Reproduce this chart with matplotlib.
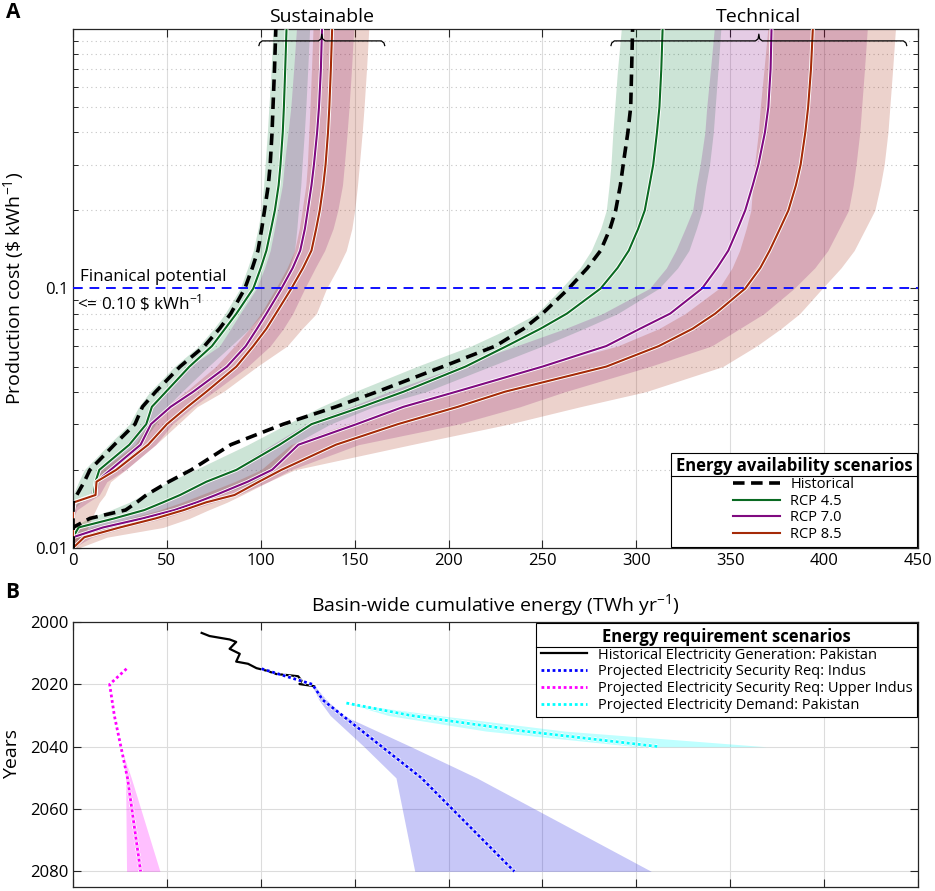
import numpy as np
import matplotlib
matplotlib.use("Agg")
import matplotlib.pyplot as plt
import matplotlib.transforms as mtransforms
from matplotlib import patheffects as pe
from matplotlib.lines import Line2D
from matplotlib.ticker import LogLocator, NullFormatter

plt.rcParams['font.family'] = ['Open Sans', 'DejaVu Sans']
plt.rcParams['mathtext.fontset'] = 'custom'
plt.rcParams['mathtext.rm'] = 'Open Sans'
plt.rcParams['mathtext.it'] = 'Open Sans'
plt.rcParams['mathtext.bf'] = 'Open Sans:bold'

# ---- panel A: supply curves (cost levels shared by every series) ----
COST = [0.01, 0.011, 0.012, 0.013, 0.014, 0.015, 0.016, 0.018, 0.02, 0.025, 0.03, 0.035, 0.04,
        0.05, 0.06, 0.07, 0.08, 0.1, 0.12, 0.14, 0.17, 0.2, 0.25, 0.3, 0.4, 0.5, 0.7, 1.0]

# technical potential (TWh/yr)
tech_hist = [0, 0, 0, 9, 28, 34, 39, 51, 63, 84, 112, 140, 162, 197, 225, 240, 250, 264, 274, 281, 286, 289, 291.5, 293, 295.5, 297, 297.5, 298]
tech_rcp45 = [0, 0, 3, 22, 38, 48, 57, 71, 87, 110, 127, 154, 176, 209, 231, 249, 263, 281, 290, 296, 301, 304.5, 307, 309, 311, 312.3, 313.3, 314]
tech_rcp70 = [0, 0, 16, 37, 54, 66, 76, 93, 106, 120, 151, 176, 204, 250, 284, 302, 318, 335, 343, 349, 354, 358, 362, 365, 368.5, 370.3, 371.5, 372]
tech_rcp85 = [0, 6, 25, 44, 59, 71, 86, 99, 111, 140, 173, 205, 230, 284, 312, 330, 342, 358, 366, 371, 376.5, 381, 385, 387.5, 390, 391.5, 393, 394]
tech45_lo = [0, 0, 0, 8, 20, 30, 37, 51, 65, 93, 114, 132, 150, 183, 212, 232, 247, 260, 270, 276, 281, 284, 285.5, 286.5, 287.5, 288.5, 290, 292]
tech45_hi = [0, 5, 22, 40, 55, 68, 78, 97, 106, 117, 137, 160, 188, 222, 250, 272, 290, 312, 322, 328, 332, 335, 337, 339, 341, 342, 343.5, 345]
tech70_lo = [0, 0, 3, 20, 36, 46, 55, 70, 85, 106, 124, 148, 168, 205, 236, 262, 282, 307, 316, 321, 326, 330, 332, 334, 336.5, 337.5, 339.5, 341.5]
tech70_hi = [0, 10, 28, 48, 62, 75, 88, 104, 116, 152, 205, 238, 262, 307, 340, 355, 368, 384, 395, 402, 408, 413, 415.5, 417, 419, 420, 421.5, 423]
tech85_lo = [0, 0, 10, 30, 46, 58, 68, 86, 100, 116, 146, 175, 203, 250, 290, 312, 326, 344, 351, 355, 358.5, 361, 362, 363, 365, 366, 368, 370]
tech85_hi = [3, 18, 48, 62, 72, 82, 90, 104, 118, 180, 232, 270, 305, 346, 364, 377, 387, 399, 409, 416, 422, 427, 430, 432, 434, 435, 436.5, 438]

# sustainable potential (TWh/yr)
sust_hist = [0, 0, 0, 0, 0, 0, 2, 6, 9, 22, 33, 37, 44, 57, 70, 78, 84, 91.5, 95.5, 98.5, 100.5, 102, 104, 105, 106, 106.5, 107.3, 108]
sust_rcp45 = [0, 0, 0, 0, 0, 0.5, 11, 12, 14, 30, 39, 42, 49.5, 62, 74, 81, 87, 96, 100, 103, 105.5, 107.5, 109.5, 110.5, 111.7, 112.3, 113, 113.7]
sust_rcp70 = [0, 0, 0, 0, 0, 1, 12, 12.5, 20, 36, 41.5, 52, 64, 82, 92, 98, 103, 111, 117, 121, 123.5, 125, 127, 128.3, 130, 131, 132, 132.6]
sust_rcp85 = [0, 0, 0, 0, 0, 0.5, 12, 12.5, 23, 40, 50, 61, 71, 87, 96, 103, 108, 116.3, 122.5, 127, 129.5, 131.4, 133.3, 134.5, 135.8, 136.5, 137.3, 138]
sust45_lo = [0, 0, 0, 0, 0, 0, 0, 3, 6, 19, 30, 35, 41, 54, 67, 75, 81, 89, 93, 96, 98.5, 100.3, 101.5, 102.3, 103.5, 104.3, 105.5, 106.5]
sust45_hi = [0, 0, 0, 0, 0, 4, 12, 14, 20, 36, 44, 50, 58, 72, 84, 94, 101, 110, 115, 118, 119.2, 120, 121.3, 122, 123.2, 124, 125, 126]
sust70_lo = [0, 0, 0, 0, 0, 0, 9, 11, 13, 28, 37, 42, 48, 62, 78, 84, 89, 97.7, 102, 105, 107.3, 109, 111.5, 112.5, 114.5, 116, 117.5, 119]
sust70_hi = [0, 0, 0, 0, 2, 8, 14, 18, 28, 44, 53, 64, 75, 93, 105, 112, 117, 123.4, 129, 134, 138.5, 141, 143.5, 144.5, 146, 147, 148.3, 149.5]
sust85_lo = [0, 0, 0, 0, 0, 0, 10, 12, 15, 33, 40, 50, 60, 76, 86, 94, 100, 108, 114, 118, 120.5, 122, 124, 124.8, 125.6, 126.2, 127, 127.8]
sust85_hi = [2, 5, 8, 10, 12, 14, 17, 20, 28, 44, 56, 66, 80, 98, 114, 122, 129.6, 135, 141, 145.5, 148.5, 150, 151.5, 152.5, 154, 155, 156.3, 157.5]

financial_cost = 0.1
sust_range = [99, 166]
tech_range = [286.5, 444]

# ---- panel B: energy requirement ----
hist_year = [2003.5, 2004.5, 2005.6, 2006.4, 2008.6, 2010.2, 2012.7, 2013.4, 2014.8,
             2015.6, 2016.7, 2017.0, 2017.4, 2018.8, 2019.9, 2020.6]
hist_energy = [68.5, 72.7, 83.4, 86.9, 83.4, 88.8, 86.9, 93.2, 97.7,
               103.0, 108.3, 113.7, 119.9, 121.7, 120.6, 128.7]

indus_year = [2015, 2020, 2025, 2030, 2040, 2050, 2080]
indus_energy = [100.4, 127.5, 133, 143.5, 164.5, 185.5, 235]
indus_band_year = [2020, 2025, 2030, 2040, 2050, 2080]
indus_band_lo = [127, 131, 137, 155, 172, 182]
indus_band_hi = [128, 135, 144, 180, 215, 308]

upper_year = [2015, 2020, 2030, 2040, 2050, 2080]
upper_energy = [28.5, 19.5, 22, 25.5, 29, 36]
upper_band_year = [2042, 2050, 2080]
upper_band_lo = [26.5, 28, 28.5]
upper_band_hi = [26.5, 31, 46.3]

demand_year = [2026, 2030, 2035, 2040]
demand_energy = [145.6, 180, 240, 312.2]
demand_band_lo = [145.6, 168, 220, 300]
demand_band_hi = [145.6, 195, 262, 369]

GREEN, PURPLE, RED = '#0a6a22', '#800a80', '#a52a08'
GREEN_F, PURPLE_F, RED_F = '#007832', '#800080', '#a01e00'
AX_COL = '#262626'


def halo(lw):
    return [pe.Stroke(linewidth=lw + 1.3, foreground='white'), pe.Normal()]


def style_axes(ax):
    for s in ax.spines.values():
        s.set_color(AX_COL)
        s.set_linewidth(0.9)
    ax.tick_params(which='both', direction='in', top=True, right=True, colors=AX_COL,
                   labelcolor='black', labelsize=12)
    ax.tick_params(which='major', length=5.5, width=0.8)
    ax.tick_params(which='minor', length=3.5, width=0.7)


def legend_rule(fig, leg):
    fig.canvas.draw()
    r = fig.canvas.get_renderer()
    fb = leg.get_frame().get_window_extent(r)
    tb = leg.get_title().get_window_extent(r)
    inv = fig.transFigure.inverted()
    (x0, y0), (x1, _) = inv.transform([(fb.x0, tb.y0 - 1), (fb.x1, tb.y0 - 1)])
    fig.add_artist(Line2D([x0, x1], [y0, y0], color='black', lw=0.8))


def make_legend(ax, handles, title, loc):
    leg = ax.legend(handles=handles, loc=loc, title=title,
                    title_fontproperties={'weight': 'bold', 'size': 12}, fontsize=10.5,
                    frameon=True, fancybox=False, framealpha=1, edgecolor='black',
                    borderaxespad=0.1, handlelength=3.2, handletextpad=0.7, labelspacing=0.12,
                    borderpad=0.3)
    leg.get_frame().set_linewidth(0.8)
    leg.set_zorder(10)
    return leg


fig = plt.figure(figsize=(9.35, 8.91), dpi=100)
axA = fig.add_axes([0.0781, 0.3850, 0.9037, 0.5825])
axB = fig.add_axes([0.0781, 0.0045, 0.9037, 0.2974])

# ---------------- panel A ----------------
axA.set_yscale('log')
for lo, hi, col in [(tech45_lo, tech45_hi, GREEN_F), (tech70_lo, tech70_hi, PURPLE_F),
                    (tech85_lo, tech85_hi, RED_F), (sust45_lo, sust45_hi, GREEN_F),
                    (sust70_lo, sust70_hi, PURPLE_F), (sust85_lo, sust85_hi, RED_F)]:
    axA.fill_betweenx(COST, lo, hi, color=col, alpha=0.2, lw=0, zorder=2)

handles = []
for series, col, name in [(tech_rcp45, GREEN, 'RCP 4.5'), (tech_rcp70, PURPLE, 'RCP 7.0'),
                          (tech_rcp85, RED, 'RCP 8.5')]:
    h, = axA.plot(series, COST, color=col, lw=1.5, path_effects=halo(1.5), zorder=3, label=name)
    handles.append(h)
for series, col in [(sust_rcp45, GREEN), (sust_rcp70, PURPLE), (sust_rcp85, RED)]:
    axA.plot(series, COST, color=col, lw=1.5, path_effects=halo(1.5), zorder=3)
hh, = axA.plot(tech_hist, COST, color='black', lw=2.6, ls=(0, (3.2, 1.8)), zorder=4, label='Historical')
axA.plot(sust_hist, COST, color='black', lw=2.6, ls=(0, (3.2, 1.8)), zorder=4)
handles.insert(0, hh)

axA.axhline(financial_cost, color='#1010ff', lw=1.4, ls=(0, (5, 3.5)), zorder=5)
axA.text(3.7, financial_cost * 1.035, 'Finanical potential', fontsize=12.3, va='bottom', ha='left')
axA.text(2.0, financial_cost * 0.965, r'<= 0.10 \$ kWh$^{-1}$', fontsize=12.3, va='top', ha='left')

axA.set_xlim(0, 450)
axA.set_ylim(0.01, 1.0)
axA.set_xticks(np.arange(0, 451, 50))
axA.set_yticks([0.01, 0.1])
axA.set_yticklabels(['0.01', '0.1'])
axA.yaxis.set_minor_locator(LogLocator(base=10, subs=np.arange(2, 10)))
axA.yaxis.set_minor_formatter(NullFormatter())
axA.grid(True, which='major', axis='x', color='#dcdcdc', lw=0.8)
axA.grid(True, which='minor', axis='y', color='#c4c4c4', lw=0.8, ls=(0, (1, 3)))
axA.set_axisbelow(True)
style_axes(axA)
axA.set_xlabel(r'Basin-wide cumulative energy (TWh yr$^{-1}$)', fontsize=14)
axA.xaxis.set_label_coords(0.5, -0.086)
axA.set_ylabel(r'Production cost (\$ kWh$^{-1}$)', fontsize=14)
axA.yaxis.set_label_coords(-0.056, 0.5)

# brackets above the curve groups
trans = mtransforms.blended_transform_factory(axA.transData, axA.transAxes)
for (x0, x1), name in [(sust_range, 'Sustainable'), (tech_range, 'Technical')]:
    mid = 0.5 * (x0 + x1)
    yb, yh, yt = 0.977, 0.968, 0.99
    bx = [x0, x0 + 0.4, x0 + 1.8, mid - 1.8, mid - 0.4, mid, mid + 0.4, mid + 1.8, x1 - 1.8, x1 - 0.4, x1]
    by = [yh, yb - 0.004, yb, yb, yb + 0.004, yt, yb + 0.004, yb, yb, yb - 0.004, yh]
    axA.plot(bx, by, transform=trans, color='black', lw=0.9, clip_on=False, zorder=6)
    axA.text(mid, 1.024, name, transform=trans, ha='center', va='center', fontsize=14)

legA = make_legend(axA, handles, 'Energy availability scenarios', 'lower right')

# ---------------- panel B ----------------
axB.fill_betweenx(indus_band_year, indus_band_lo, indus_band_hi, color='#2020e0', alpha=0.25, lw=0)
axB.fill_betweenx(upper_band_year, upper_band_lo, upper_band_hi, color='#ff00ff', alpha=0.25, lw=0)
axB.fill_betweenx(demand_year, demand_band_lo, demand_band_hi, color='#00ffff', alpha=0.25, lw=0)
hb = []
h, = axB.plot(hist_energy, hist_year, color='black', lw=1.6, path_effects=halo(1.6),
              label='Historical Electricity Generation: Pakistan')
hb.append(h)
for xs, ys, col, name in [(indus_energy, indus_year, '#0000ff', 'Projected Electricity Security Req: Indus'),
                          (upper_energy, upper_year, '#ff00ff', 'Projected Electricity Security Req: Upper Indus'),
                          (demand_energy, demand_year, '#00ffff', 'Projected Electricity Demand: Pakistan')]:
    h, = axB.plot(xs, ys, color=col, lw=2.0, ls=(0, (1, 1)), path_effects=halo(2.0), label=name)
    hb.append(h)

axB.set_xlim(0, 450)
axB.set_ylim(2085, 2000)
axB.set_xticks(np.arange(0, 451, 50))
axB.set_xticklabels([])
axB.set_yticks(np.arange(2000, 2081, 20))
axB.grid(True, which='major', color='#dcdcdc', lw=0.8)
axB.set_axisbelow(True)
style_axes(axB)
axB.set_ylabel('Years', fontsize=14)
axB.yaxis.set_label_coords(-0.062, 0.5)

legB = make_legend(axB, hb, 'Energy requirement scenarios', 'upper right')

fig.text(0.006, 0.986, 'A', fontsize=15, fontweight='bold', ha='left', va='center')
fig.text(0.006, 0.3345, 'B', fontsize=15, fontweight='bold', ha='left', va='center')

legend_rule(fig, legA)
legend_rule(fig, legB)

fig.savefig('out.png', dpi=100)
